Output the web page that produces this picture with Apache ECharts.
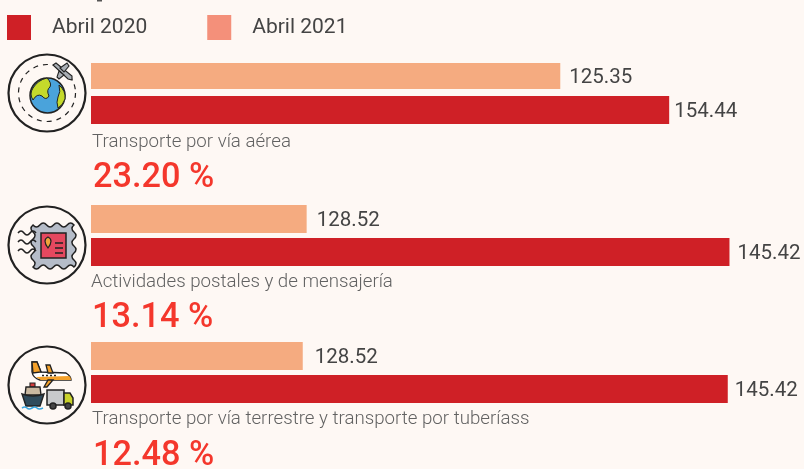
<!DOCTYPE html>
<html>
<head>
<meta charset="utf-8">
<script src="https://cdn.jsdelivr.net/npm/echarts@6/dist/echarts.min.js"></script>
<style>
  html, body { margin: 0; padding: 0; background: #fef8f4; }
  #main { width: 804px; height: 469px; }
</style>
</head>
<body>
<div id="main"></div>
<script>
var categories = ['Transporte por vía aérea', 'Actividades postales y de mensajería', 'Transporte por vía terrestre y transporte por tuberíass'];
var abril2020 = [154.44, 145.42, 145.42];
var abril2021 = [125.35, 128.52, 128.52];
var variacion = ['23.20 %', '13.14 %', '12.48 %'];
var seriesNames = ['Abril 2020', 'Abril 2021'];

var RED = '#cf2026', PEACH = '#f5ab80', INK = '#222222', BG = '#fef8f4';

// each group has its own axis, the source chart truncates the last two near 120
var axisMin = [0, 119.9, 120.1];
var axisMax = [160, 147, 147];
var gridTop = [63, 205, 342];
var gridWidth = [599, 678, 676.5];
var gapBars = ['27%', '18%', '18%'];
var peachWidth = [26, 28, 28];
var peachDist = [9, 10, 12];
var redDist = [5, 8, 7];
var catY = [142, 282, 419];
var pctY = [178, 318, 456];
var textX = [92, 91, 92];
var pctX = [93, 92, 93];

var grids = [], xAxes = [], yAxes = [], series = [], graphics = [];

function valueLabel(dist) {
  return {
    show: true, position: 'right', distance: dist, offset: [0, 2],
    color: '#444', fontSize: 20.5, fontFamily: 'Roboto',
    formatter: function (p) { return p.value.toFixed(2); }
  };
}

categories.forEach(function (name, i) {
  grids.push({ left: 91, top: gridTop[i], width: gridWidth[i], height: 61 });
  xAxes.push({ gridIndex: i, type: 'value', min: axisMin[i], max: axisMax[i], show: false });
  yAxes.push({ gridIndex: i, type: 'category', data: [name], show: false });
  series.push({
    name: seriesNames[1], type: 'bar', xAxisIndex: i, yAxisIndex: i, data: [abril2021[i]],
    barWidth: peachWidth[i], barGap: gapBars[i], itemStyle: { color: PEACH },
    label: valueLabel(peachDist[i])
  });
  series.push({
    name: seriesNames[0], type: 'bar', xAxisIndex: i, yAxisIndex: i, data: [abril2020[i]],
    barWidth: 28, barGap: gapBars[i], itemStyle: { color: RED },
    label: valueLabel(redDist[i])
  });
  graphics.push({
    type: 'text', x: textX[i], y: catY[i],
    style: { text: name, fill: '#626262', font: '300 18.7px Roboto', textVerticalAlign: 'middle' }
  });
  graphics.push({
    type: 'text', x: pctX[i], y: pctY[i],
    style: { text: variacion[i], fill: '#f4372c', font: '500 34.3px Roboto', textVerticalAlign: 'middle' }
  });
});

// icons, plain drawing in page pixels
var pathCount = 0;
function ring(cy) {
  graphics.push({ type: 'circle', shape: { cx: 47, cy: cy, r: 38.5 }, style: { fill: BG, stroke: INK, lineWidth: 2.2 } });
}
function shape(d, fill, stroke, lw) {
  // graphic has no plain path type, so each outline gets registered
  var name = 'iconPath' + (pathCount++);
  echarts.graphic.registerShape(name, echarts.graphic.extendPath(d, {}));
  graphics.push({ type: name, style: { fill: fill || 'none', stroke: stroke || 'none', lineWidth: lw || 1.5 } });
}
function dot(x, y, r, fill) {
  graphics.push({ type: 'circle', shape: { cx: x, cy: y, r: r }, style: { fill: fill, stroke: INK, lineWidth: 1.5 } });
}

// clipped stroke of the title cut off at the top edge
shape('M97 0 H102 V1.5 H97 Z', '#555');

ring(93);
graphics.push({ type: 'circle', shape: { cx: 47, cy: 93, r: 28.5 }, style: { fill: 'none', stroke: INK, lineWidth: 1.2, lineDash: [5, 5] } });
graphics.push({ type: 'circle', shape: { cx: 62, cy: 71, r: 10 }, style: { fill: BG } });
dot(47.5, 95.5, 17.5, '#4aa3db');
shape('M33 88 Q38 80 47 78 Q52 83 50 87 Q46 90 49 96 Q46 101 42 96 Q37 93 33 100 Q29 94 33 88 Z', '#c5da2b', INK, 1);
shape('M59 85 Q66 91 65 99 Q63 105 58 108 Q56 102 58 97 Q61 92 59 85 Z', '#c5da2b', INK, 1);
shape('M53 65 L56 63 L72 76 L72 80 L68 79 Z', '#a9aeb4', INK, 1.1);
shape('M60 68 L67 63 L69 66 L64 72 Z', '#a9aeb4', INK, 1.1);
shape('M59 71 L64 75 L59 79 L57 77 Z', '#a9aeb4', INK, 1.1);

ring(245);
shape('M33 225 q3.4 4 6.83 0 t6.83 0 t6.83 0 t6.83 0 t6.83 0 t6.83 0 q-4 3.5 0 7 t0 7 t0 7 t0 7 t0 7 t0 7 q-3.4 -4 -6.83 0 t-6.83 0 t-6.83 0 t-6.83 0 t-6.83 0 t-6.83 0 q4 -3.5 0 -7 t0 -7 t0 -7 t0 -7 t0 -7 t0 -7 Z', '#b5bcc8', INK, 1.5);
shape('M18 233 q3 -4 6 0 t6 0 t6 0 M18 242 q3 -4 6 0 t6 0 t6 0 M18 251 q3 -4 6 0 t6 0 t6 0', null, INK, 1.5);
shape('M41 233 H66 V258 H41 Z', '#e5485f', INK, 1.5);
shape('M48 237 Q54 240 48 248 Q42 240 48 237 Z', '#f0a33a', INK, 1.2);
shape('M55 243 H63 M55 248 H63 M55 253 H63', null, INK, 1.5);

ring(385);
shape('M32 362 L37 362 L41 372 L66 373 Q71 376 71 380 L40 380 Q33 378 32 372 Z', '#ffffff', INK, 1.4);
shape('M41 380 L71 380 Q71 377 69 376 L36 377 Z', '#f4a12a');
shape('M32 362 L37 362 L41 372 L33 373 Z', '#f4a12a', INK, 1.3);
shape('M46 365 L50 365 L53 373 L48 373 Z', '#f4a12a', INK, 1.3);
shape('M48 380 L53 380 L47 387 L44 387 Z', '#f4a12a', INK, 1.3);
shape('M42 375.5 h2 M46 375.5 h2 M50 375.5 h2 M54 375.5 h2', null, INK, 1.5);
shape('M30 383 H35 V387 H30 Z', '#d23c3c', INK, 1.1);
shape('M26 387 H40 L41 395 H25 Z', '#c9b8a0', INK, 1.4);
shape('M22 394 Q33 398 44 394 L40 406 H26 Z', '#2f4b5c', INK, 1.4);
shape('M22 408 q3 -2 5 0 t5 0 t5 0 t6 0', null, '#3aa6e0', 1.6);
shape('M47 390 H64 V405 H47 Z', '#c8cacc', INK, 1.5);
shape('M64 393 H70 L73 398 V405 H64 Z', '#c9d22b', INK, 1.5);
dot(53, 406, 3, '#444');
dot(68, 406, 3, '#444');

var chart = echarts.init(document.getElementById('main'), null, { renderer: 'canvas' });
chart.setOption({
  animation: false,
  backgroundColor: BG,
  legend: {
    left: 2, top: 10, itemWidth: 24, itemHeight: 25, itemGap: 60, icon: 'rect',
    textStyle: { color: '#444', fontSize: 21, fontFamily: 'Roboto', padding: [2, 0, 0, 16] },
    data: [
      { name: seriesNames[0], itemStyle: { color: RED } },
      { name: seriesNames[1], itemStyle: { color: '#f4907a' } }
    ]
  },
  grid: grids,
  xAxis: xAxes,
  yAxis: yAxes,
  series: series,
  graphic: graphics
});
</script>
</body>
</html>
